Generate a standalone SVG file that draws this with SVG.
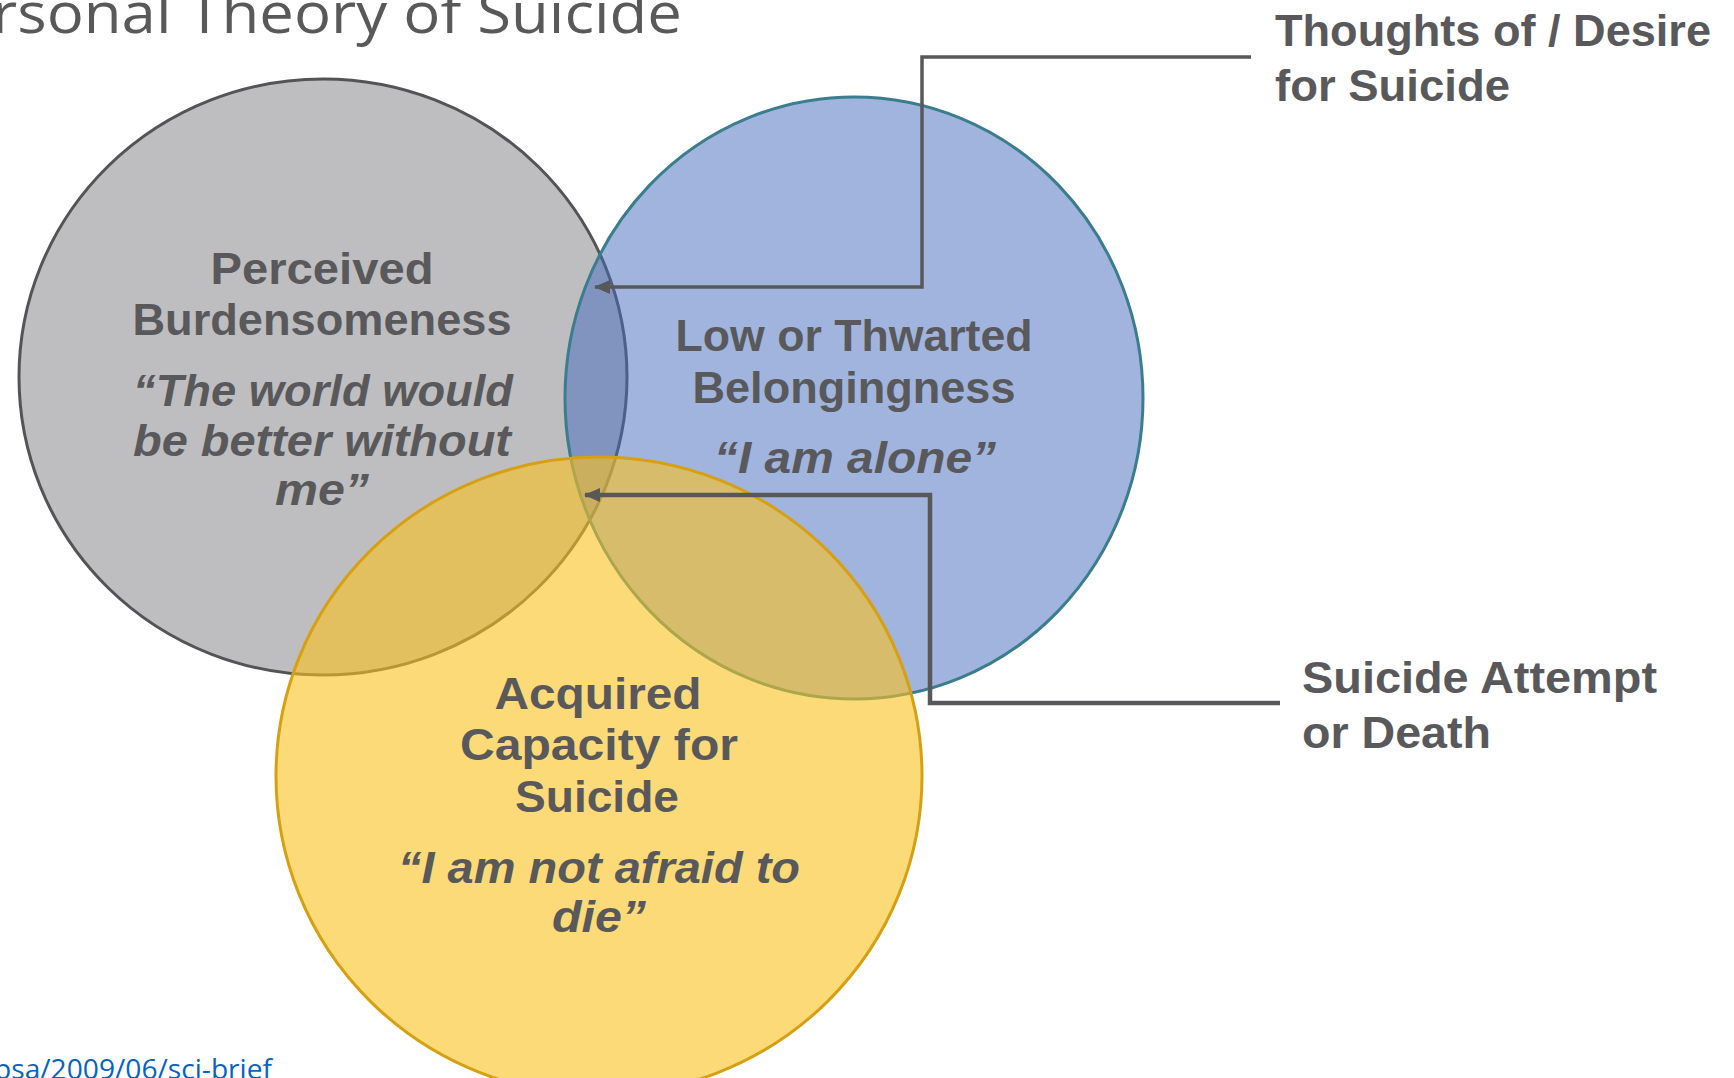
<svg xmlns="http://www.w3.org/2000/svg" width="1734" height="1078" viewBox="0 0 1734 1078">
<style>
.lbl{font-family:"Liberation Sans",Arial,sans-serif;font-weight:bold;fill:#59595B;font-size:44px;text-anchor:middle}
.it{font-style:italic}
.side{font-family:"Liberation Sans",Arial,sans-serif;font-weight:bold;fill:#59595B;font-size:44px}
.conn{fill:none;stroke:#58585A;stroke-linejoin:miter}
</style>
<defs>
<marker id="arr" viewBox="0 0 16 14" refX="15" refY="7" markerWidth="16" markerHeight="14" markerUnits="userSpaceOnUse" orient="auto">
<path d="M0,0 L16,7 L0,14 Z" fill="#58585A"/>
</marker>
</defs>
<rect width="1734" height="1078" fill="#FFFFFF"/>
<text x="-8" y="33" font-family="'Open Sans','Liberation Sans',sans-serif" font-size="56" fill="#595959" textLength="690" lengthAdjust="spacingAndGlyphs">rsonal Theory of Suicide</text>
<g id="node-burden">
<ellipse cx="323" cy="377" rx="304" ry="298" fill="#BEBEC1" stroke="#545457" stroke-width="3"/>
<text class="lbl" x="322" y="284" textLength="223" lengthAdjust="spacingAndGlyphs">Perceived</text>
<text class="lbl" x="322" y="335" textLength="379" lengthAdjust="spacingAndGlyphs">Burdensomeness</text>
<text class="lbl it" x="323" y="406" textLength="380" lengthAdjust="spacingAndGlyphs">“The world would</text>
<text class="lbl it" x="322" y="456" textLength="378" lengthAdjust="spacingAndGlyphs">be better without</text>
<text class="lbl it" x="322" y="505" textLength="94" lengthAdjust="spacingAndGlyphs">me”</text>
</g>
<g id="node-belong">
<ellipse cx="854" cy="398" rx="289" ry="301" fill="#4169BD" fill-opacity="0.5" stroke="#3A7D8C" stroke-width="3"/>
<text class="lbl" x="854" y="351" textLength="357" lengthAdjust="spacingAndGlyphs">Low or Thwarted</text>
<text class="lbl" x="854" y="403" textLength="323" lengthAdjust="spacingAndGlyphs">Belongingness</text>
<text class="lbl it" x="855" y="473" textLength="282" lengthAdjust="spacingAndGlyphs">“I am alone”</text>
</g>
<g id="node-capacity">
<ellipse cx="599" cy="776" rx="323" ry="319" fill="#FCC11E" fill-opacity="0.6" stroke="#D6A012" stroke-width="3"/>
<text class="lbl" x="598" y="709" textLength="207" lengthAdjust="spacingAndGlyphs">Acquired</text>
<text class="lbl" x="599" y="760" textLength="278" lengthAdjust="spacingAndGlyphs">Capacity for</text>
<text class="lbl" x="597" y="812" textLength="164" lengthAdjust="spacingAndGlyphs">Suicide</text>
<text class="lbl it" x="599" y="883" textLength="402" lengthAdjust="spacingAndGlyphs">“I am not afraid to</text>
<text class="lbl it" x="599" y="932" textLength="94" lengthAdjust="spacingAndGlyphs">die”</text>
</g>
<g id="node-thoughts">
<text class="side" x="1275" y="46" textLength="436" lengthAdjust="spacingAndGlyphs">Thoughts of / Desire</text>
<text class="side" x="1275" y="101" textLength="235" lengthAdjust="spacingAndGlyphs">for Suicide</text>
</g>
<g id="node-attempt">
<text class="side" x="1302" y="693" textLength="355" lengthAdjust="spacingAndGlyphs">Suicide Attempt</text>
<text class="side" x="1302" y="748" textLength="189" lengthAdjust="spacingAndGlyphs">or Death</text>
</g>
<g id="connectors">
<path class="conn" stroke-width="3.5" d="M1251,57 L922,57 L922,287 L595,287" marker-end="url(#arr)"/>
<path class="conn" stroke-width="4.5" d="M1280,703 L930,703 L930,495 L585,495" marker-end="url(#arr)"/>
</g>
<text x="-6" y="1079" font-family="'Open Sans','Liberation Sans',sans-serif" font-size="28" fill="#0563C1" textLength="278" lengthAdjust="spacingAndGlyphs">psa/2009/06/sci-brief</text>
</svg>
